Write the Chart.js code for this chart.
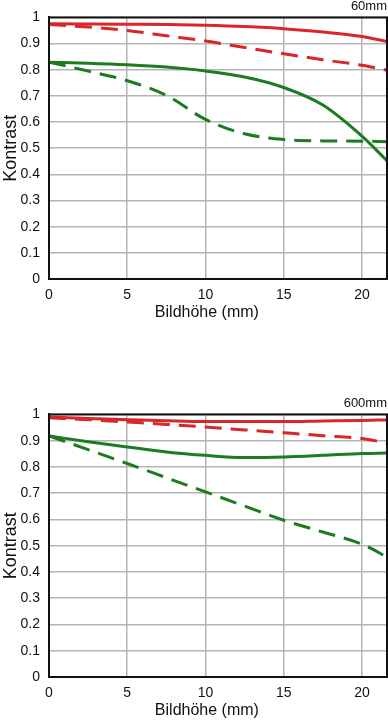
<!DOCTYPE html>
<html>
<head>
<meta charset="utf-8">
<script src="https://cdn.jsdelivr.net/npm/chart.js@4.4.1/dist/chart.umd.min.js"></script>
<style>
  body { margin: 0; background: #fff; width: 388px; height: 720px; position: relative; overflow: hidden; }
  .box { position: absolute; left: 0; width: 388px; }
  #box1 { top: 0; height: 322px; }
  #box2 { top: 397px; height: 323px; }
</style>
</head>
<body>
<div class="box" id="box1"><canvas id="mtf60"></canvas></div>
<div class="box" id="box2"><canvas id="mtf600"></canvas></div>
<script>
// Bildhöhe positions (mm)
const heights = [0, 2.5, 5, 7.5, 10, 12.5, 15, 17.5, 20, 21.6];
const yTicks = [0, 0.1, 0.2, 0.3, 0.4, 0.5, 0.6, 0.7, 0.8, 0.9, 1];
const xTicks = [0, 5, 10, 15, 20];

// 60mm
const red60Solid = [0.976, 0.975, 0.974, 0.973, 0.970, 0.965, 0.957, 0.944, 0.927, 0.908];
const red60Dash = [0.973, 0.963, 0.950, 0.930, 0.910, 0.885, 0.861, 0.838, 0.817, 0.798];
const green60Solid = [0.829, 0.825, 0.819, 0.810, 0.795, 0.772, 0.732, 0.665, 0.546, 0.452];
const green60Dash = [0.829, 0.795, 0.758, 0.702, 0.610, 0.555, 0.533, 0.528, 0.527, 0.525];

// 600mm
const red600Solid = [0.990, 0.984, 0.980, 0.976, 0.973, 0.973, 0.973, 0.975, 0.977, 0.979];
const red600Dash = [0.987, 0.980, 0.971, 0.962, 0.952, 0.941, 0.930, 0.919, 0.908, 0.891];
const green600Solid = [0.918, 0.896, 0.876, 0.857, 0.844, 0.836, 0.838, 0.844, 0.851, 0.853];
const green600Dash = [0.918, 0.866, 0.813, 0.759, 0.705, 0.651, 0.597, 0.552, 0.506, 0.457];

const RED = '#d8262b';
const GREEN = '#1c7c1f';
const FONT = 'Liberation Sans, Arial, sans-serif';

// black frame round the plot area
const frame = {
    id: 'frame',
    afterDatasetsDraw(chart) {
        const a = chart.chartArea;
        const ctx = chart.ctx;
        ctx.save();
        ctx.strokeStyle = '#111';
        ctx.lineWidth = 2;
        ctx.strokeRect(a.left, a.top, a.right - a.left, a.bottom - a.top);
        ctx.restore();
    }
};

function pts(vals) {
    return vals.map((v, i) => ({ x: heights[i], y: v }));
}

function ds(vals, color, dashed) {
    return {
        data: pts(vals),
        borderColor: color,
        borderWidth: 3,
        borderDash: dashed ? [17, 9] : [],
        pointRadius: 0,
        cubicInterpolationMode: 'monotone',
        fill: false
    };
}

function makeChart(id, label, sets, titlePad) {
    return new Chart(document.getElementById(id), {
        type: 'line',
        data: { datasets: sets },
        plugins: [frame],
        options: {
            responsive: true,
            maintainAspectRatio: false,
            animation: false,
            layout: { padding: { left: 0, right: 1, top: 0, bottom: 0 } },
            plugins: {
                legend: { display: false },
                tooltip: { enabled: false },
                title: {
                    display: true,
                    text: label,
                    align: 'end',
                    color: '#111',
                    font: { family: FONT, size: 13, weight: 'normal', lineHeight: 1 },
                    padding: { top: 0, bottom: 4 }
                }
            },
            scales: {
                x: {
                    type: 'linear',
                    min: 0,
                    max: 21.6,
                    afterBuildTicks: (axis) => { axis.ticks = xTicks.map(v => ({ value: v })); },
                    afterFit: (axis) => { axis.height = 43; },
                    grid: { color: '#b4b4b4', lineWidth: 1.5, drawTicks: false },
                    border: { color: '#111', width: 2 },
                    ticks: { color: '#111', font: { family: FONT, size: 14 }, padding: 8, maxRotation: 0, callback: (v) => v },
                    title: {
                        display: true,
                        text: 'Bildhöhe (mm)\u00a0\u00a0\u00a0\u00a0\u00a0',
                        color: '#111',
                        font: { family: FONT, size: 16 },
                        padding: { top: titlePad, bottom: 0 }
                    }
                },
                y: {
                    min: 0,
                    max: 1,
                    afterBuildTicks: (axis) => { axis.ticks = yTicks.map(v => ({ value: v })); },
                    afterFit: (axis) => { axis.width = 49; },
                    grid: { color: '#b4b4b4', lineWidth: 1.5, drawTicks: false },
                    border: { color: '#111', width: 2 },
                    ticks: { color: '#111', font: { family: FONT, size: 14 }, padding: 9, callback: (v) => v },
                    title: {
                        display: true,
                        text: 'Kontrast',
                        color: '#111',
                        font: { family: FONT, size: 18 },
                        padding: { top: 0, bottom: 0 }
                    }
                }
            }
        }
    });
}

makeChart('mtf60', '60mm', [
    ds(red60Solid, RED, false),
    ds(red60Dash, RED, true),
    ds(green60Solid, GREEN, false),
    ds(green60Dash, GREEN, true)
], 0);

makeChart('mtf600', '600mm', [
    ds(red600Solid, RED, false),
    ds(red600Dash, RED, true),
    ds(green600Solid, GREEN, false),
    ds(green600Dash, GREEN, true)
], 5);
</script>
</body>
</html>
